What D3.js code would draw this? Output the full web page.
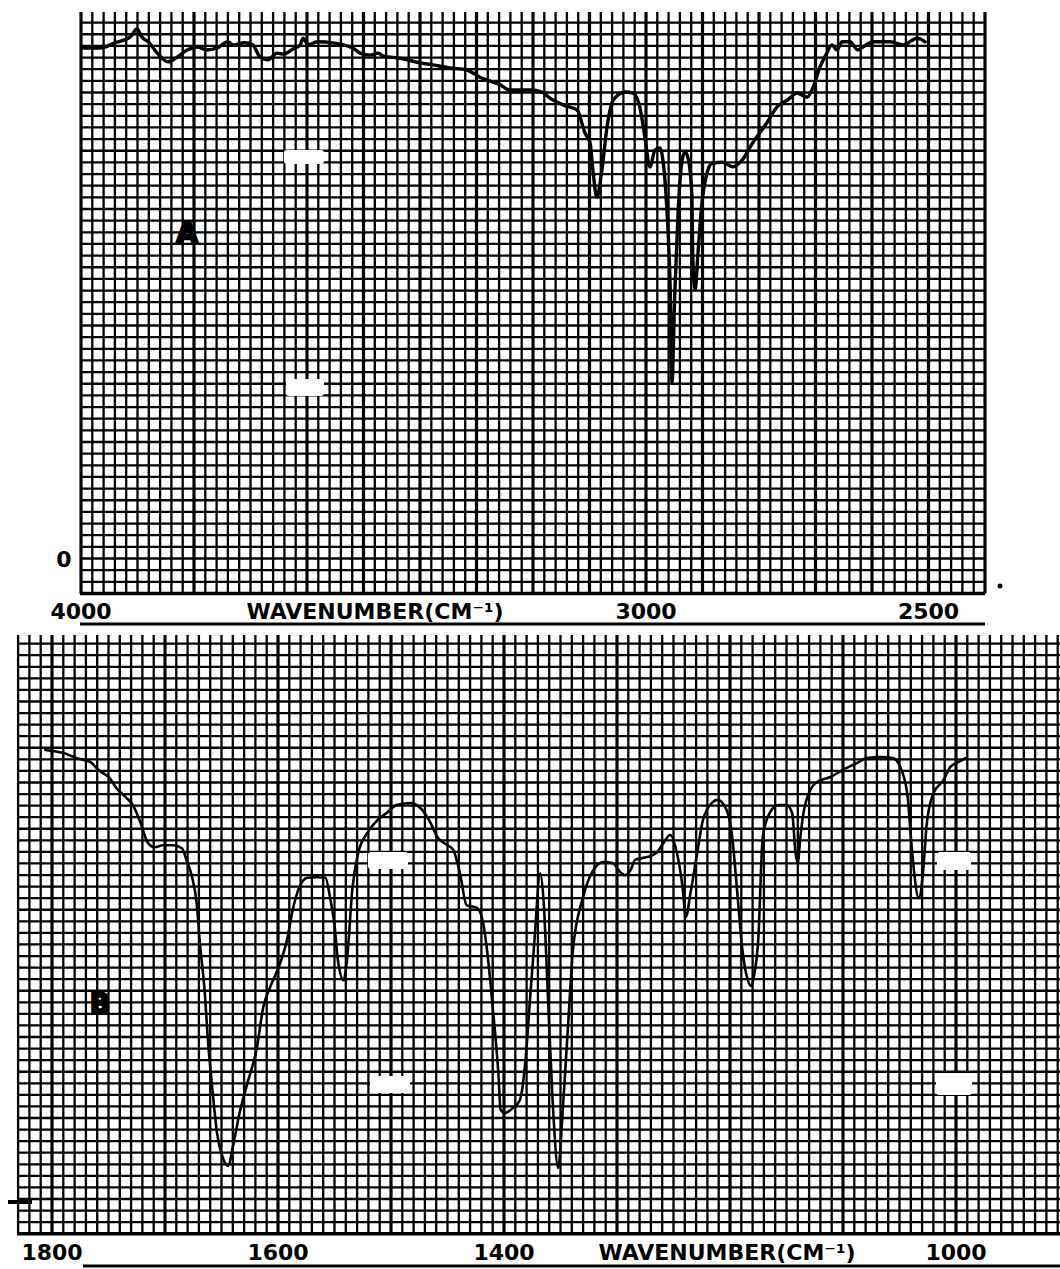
<!DOCTYPE html>
<html><head><meta charset="utf-8">
<script src="https://cdn.jsdelivr.net/npm/d3@7"></script>
<style>html,body{margin:0;padding:0;background:#fff}svg{display:block}</style>
</head><body>
<svg id="chart" width="1060" height="1269"></svg>
<script>
// ---------- DATA ----------
const topWavenumbers = [3998,3966,3940,3913,3901,3892,3881,3865,3846,3830,3812,3795,3777,3759,3740,3731,3710,3696,3683,3669,3653,3642,3625,3612,3607,3598,3582,3554,3519,3506,3488,3474,3465,3435,3400,3377,3347,3317,3294,3258,3241,3205,3184,3170,3147,3122,3108,3099,3094,3087,3078,3069,3058,3037,3023,3011,3002,2993,2984,2975,2970,2963,2957,2954,2949,2943,2936,2931,2926,2919,2917,2913,2908,2901,2892,2883,2864,2846,2830,2811,2786,2768,2750,2733,2715,2704,2692,2680,2671,2662,2653,2639,2625,2616,2598,2568,2545,2520,2506];
const topTransmittance = [99.6,99.6,100.6,101.7,103.3,101.7,100.8,98.6,96.9,97.8,99.2,99.8,99.2,99.6,100.8,100.2,100.6,100.2,97.8,97.3,98.6,98.4,99.4,100.2,101.5,100.2,100.8,100.6,99.6,98.6,98.2,98.6,98.0,97.6,96.7,96.3,95.7,95.3,93.9,92.4,91.4,91.4,91.0,89.8,88.5,87.5,83.0,81.1,75.8,70.5,75.8,84.2,89.4,91.0,90.8,88.1,82.2,76.4,79.7,80.1,77.7,68.0,51.8,34.4,51.8,68.0,77.7,79.3,78.3,71.3,58.2,52.4,59.6,69.3,75.2,77.1,77.3,76.4,77.7,81.1,85.0,88.1,89.4,90.8,90.0,92.0,95.9,98.6,100.2,99.2,100.8,100.8,99.2,99.8,100.8,100.8,100.2,101.5,100.8];

const bottomWavenumbers = [1806,1790,1778,1766,1758,1749,1743,1735,1728,1722,1715,1709,1702,1693,1685,1681,1676,1672,1669,1665,1662,1658,1654,1649,1644,1640,1634,1627,1619,1613,1607,1598,1592,1587,1581,1574,1565,1558,1554,1550,1547,1542,1539,1534,1529,1521,1512,1504,1495,1483,1474,1465,1459,1450,1445,1439,1433,1424,1419,1415,1410,1405,1403,1399,1392,1386,1381,1377,1373,1368,1365,1361,1357,1352,1348,1343,1339,1330,1321,1312,1304,1297,1293,1288,1284,1273,1265,1259,1253,1247,1242,1239,1235,1229,1224,1216,1211,1203,1198,1194,1189,1185,1181,1179,1175,1171,1165,1157,1150,1145,1142,1140,1138,1135,1129,1123,1111,1100,1088,1079,1067,1056,1050,1043,1039,1033,1029,1026,1020,1011,1005,998,992];
const bottomTransmittance = [88.2,87.6,86.6,85.8,84.1,82.7,80.7,79.0,77.2,74.1,69.9,69.1,69.5,69.5,68.9,66.6,63.2,58.1,49.9,41.1,31.2,21.4,13.0,8.2,6.5,10.2,16.9,22.8,29.3,37.7,41.6,46.4,50.9,56.8,61.3,63.1,63.2,63.1,59.3,53.8,46.9,43.0,46.9,61.3,68.0,71.9,74.4,75.8,77.4,77.8,76.8,73.9,71.1,69.5,68.6,64.0,57.7,57.2,54.8,48.9,37.7,24.7,17.5,16.9,17.9,19.4,27.3,39.1,50.9,64.0,58.7,39.1,19.4,6.1,17.5,35.2,48.9,59.3,64.6,66.2,66.0,64.2,63.6,64.6,66.6,67.2,68.0,69.9,71.5,68.0,61.3,55.4,60.1,68.0,74.4,77.8,78.4,76.4,71.1,61.3,48.9,43.6,41.8,43.6,50.9,71.1,75.8,77.4,77.4,75.8,68.0,66.0,70.5,75.8,80.3,81.9,82.9,84.3,85.6,86.6,86.8,86.6,85.2,79.4,68.6,59.1,64.6,73.5,79.7,82.3,84.9,85.8,86.6];

const topTickLabels = [4000, 3000, 2500];
const bottomTickLabels = [1800, 1600, 1400, 1000];
const axisTitle = "WAVENUMBER(CM\u207B\u00B9)";
const panelLabels = ["A", "B"];
const zeroLabel = "0";

// ---------- LAYOUT ----------
const svg = d3.select("#chart");
svg.append("rect").attr("width",1060).attr("height",1269).attr("fill","#fff");

const panels = [
  {
    wn: topWavenumbers, t: topTransmittance, ticks: topTickLabels,
    xDom: [4000, 2500], xRng: [81, 928.5], gridFrom: 4000, gridTo: 2400, step: 20,
    isMajor: v => (v % 200 === 0) || (v <= 3500 && v % 100 === 0),
    zeroY: 558.5, rowH: 11.65, rowsAbove: 46, rowsBelow: 3, tickTop: 12,
    label: panelLabels[0], labelPos: [187, 243], labelSize: 28,
    titleX: 375, textY: 619, underline: [80, 985, 624],
    curveW: 3.4,
    blots: [[284,150,40,14],[286,379,38,17]]
  },
  {
    wn: bottomWavenumbers, t: bottomTransmittance, ticks: bottomTickLabels,
    xDom: [1800, 1000], xRng: [52, 956], gridFrom: 1830, gridTo: 900, step: 10,
    isMajor: v => v % 100 === 0,
    zeroY: 1199, rowH: 11.57, rowsAbove: 48, rowsBelow: 3, tickTop: 635,
    label: panelLabels[1], labelPos: [100, 1013], labelSize: 26,
    titleX: 727, textY: 1260, underline: [83, 1060, 1266],
    curveW: 2.6,
    blots: [[368,852,40,17],[370,1076,40,17],[937,852,34,18],[936,1073,36,22]]
  }
];

panels.forEach((p, pi) => {
  const x = d3.scaleLinear().domain(p.xDom).range(p.xRng);
  const y = d3.scaleLinear().domain([0, 100]).range([p.zeroY, p.zeroY - 44 * p.rowH]);
  const rowVal = 100 / 44;
  const g = svg.append("g");

  const xLeft = x(p.gridFrom), xRight = Math.min(1060, x(p.gridTo));
  const yBottom = y(-p.rowsBelow * rowVal);

  // vertical grid
  const vVals = d3.range(p.gridFrom, p.gridTo - 0.1, -p.step).filter(v => x(v) <= 1061);
  g.selectAll(".v").data(vVals).join("line")
    .attr("x1", d => x(d)).attr("x2", d => x(d))
    .attr("y1", p.tickTop).attr("y2", yBottom)
    .attr("stroke", "#000")
    .attr("stroke-width", d => p.isMajor(d) ? 3.2 : 2.3);

  // horizontal grid
  const hVals = d3.range(-p.rowsBelow, p.rowsAbove + 1).map(k => k * rowVal);
  g.selectAll(".h").data(hVals).join("line")
    .attr("x1", xLeft - 1).attr("x2", xRight)
    .attr("y1", d => y(d)).attr("y2", d => y(d))
    .attr("stroke", "#000")
    .attr("stroke-width", (d, i) => (i === 0) ? 3.4 : 2.3);

  // blots (erased spots on paper)
  g.selectAll(".b").data(p.blots).join("rect")
    .attr("x", d => d[0]).attr("y", d => d[1]).attr("width", d => d[2]).attr("height", d => d[3])
    .attr("rx", 3).attr("fill", "#fff");

  // spectrum trace
  const pts = p.wn.map((w, i) => ({w, t: p.t[i]}));
  const line = d3.line().x(d => x(d.w)).y(d => y(d.t)).curve(d3.curveMonotoneX);
  g.append("path").datum(pts).attr("d", line)
    .attr("fill", "none").attr("stroke", "#000")
    .attr("stroke-width", p.curveW).attr("stroke-linejoin", "round").attr("stroke-linecap", "round");

  // tick labels
  const font = "'DejaVu Sans', 'Liberation Sans', sans-serif";
  g.selectAll(".tl").data(p.ticks).join("text")
    .attr("x", d => x(d)).attr("y", p.textY)
    .attr("text-anchor", "middle")
    .attr("font-family", font).attr("font-weight", "bold").attr("font-size", 22)
    .attr("fill", "#000").text(d => d);

  g.append("text").attr("x", p.titleX).attr("y", p.textY)
    .attr("text-anchor", "middle")
    .attr("font-family", font).attr("font-weight", "bold").attr("font-size", 22)
    .attr("fill", "#000").text(axisTitle);

  g.append("line").attr("x1", p.underline[0]).attr("x2", p.underline[1])
    .attr("y1", p.underline[2]).attr("y2", p.underline[2])
    .attr("stroke", "#000").attr("stroke-width", 3);

  // panel label (printed blotchy/solid in original)
  g.append("text").attr("x", p.labelPos[0]).attr("y", p.labelPos[1])
    .attr("text-anchor", "middle")
    .attr("font-family", font).attr("font-weight", "bold").attr("font-size", p.labelSize)
    .attr("fill", "#000").attr("stroke", "#000").attr("stroke-width", 2.5)
    .text(p.label);

  if (pi === 0) {
    g.append("text").attr("x", 64).attr("y", y(0) + 8)
      .attr("text-anchor", "middle")
      .attr("font-family", font).attr("font-weight", "bold").attr("font-size", 22)
      .attr("fill", "#000").text(zeroLabel);
    g.append("circle").attr("cx", 1000).attr("cy", 586).attr("r", 2.5).attr("fill", "#000");
  } else {
    g.append("line").attr("x1", 8).attr("x2", 32).attr("y1", y(0) + 3).attr("y2", y(0) + 3)
      .attr("stroke", "#000").attr("stroke-width", 4);
  }
});
</script>
</body></html>
